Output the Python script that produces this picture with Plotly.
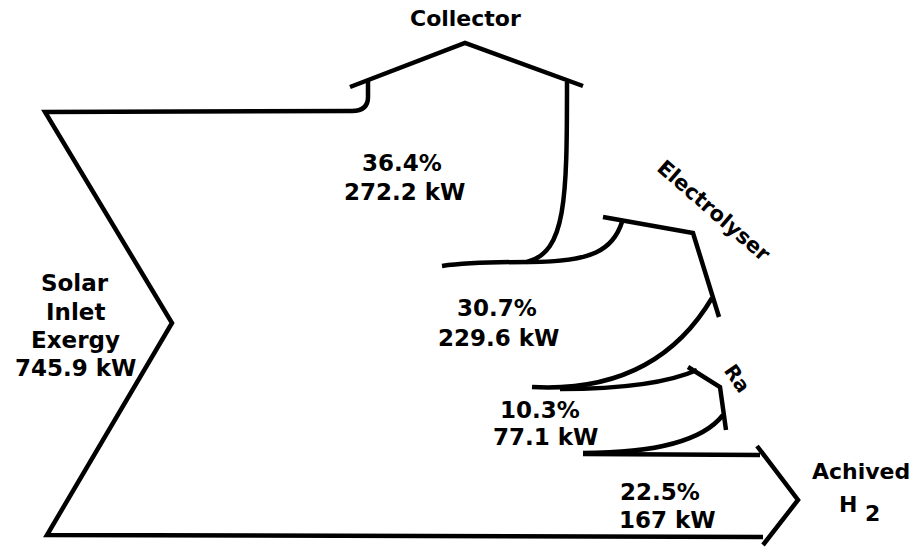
import plotly.graph_objects as go

# ---- data ----
stages = ["Solar Inlet Exergy", "Collector", "Electrolyser", "Ra", "Achived H2"]
inlet_kw = 745.9
loss_names = ["Collector", "Electrolyser", "Ra", "Achived H2"]
loss_pct = [36.4, 30.7, 10.3, 22.5]
loss_kw = [272.2, 229.6, 77.1, 167]

W, H = 917, 548
LW = 4.5
FONT = "DejaVu Sans"
FS = 23

fig = go.Figure()

paths = [
    # main outline: inlet chevron + top + bottom
    "M 368,80 L 368,97 Q 368,111 352,111 L 45,112 L 172,323 L 47,535 L 763,537",
    # collector roof
    "M 350,87 L 465,43 L 583,86",
    # collector right side curving down
    "M 567,82 C 567,200 566,252 527,262",
    # collector outflow bottom + electrolyser upper curve
    "M 442,266 Q 470,262 530,262 C 592,262 613,250 622,222",
    # electrolyser roof
    "M 603,217 L 693,233 L 719,317",
    # electrolyser lower curve
    "M 712,298 C 680,352 625,392 532,387",
    # Ra upper curve
    "M 560,389 C 622,389 668,383 697,370",
    # Ra roof
    "M 688,367 L 720,387 L 726,430",
    # Ra lower curve
    "M 723,415 C 702,442 650,453 583,453",
    # product arrow top line
    "M 583,454 L 760,455",
    # arrow head
    "M 757,446 L 798,500 L 763,545",
]
shapes = [dict(type="path", path=p, xref="x", yref="y",
               line=dict(color="black", width=LW)) for p in paths]

def ann(x, y, text, angle=0, size=FS):
    return dict(x=x, y=y, xref="x", yref="y", text=text, showarrow=False,
                textangle=angle, xanchor="center", yanchor="middle",
                font=dict(family=FONT, size=size, color="black"))

def b(t):
    return "<b>" + t + "</b>"

annotations = [
    ann(465, 18, b(loss_names[0]), size=22),
    ann(402, 163, b(f"{loss_pct[0]}%")),
    ann(404, 192, b(f"{loss_kw[0]} kW")),
    ann(714, 211, b(loss_names[1]), angle=41, size=21),
    ann(497, 308, b(f"{loss_pct[1]}%")),
    ann(498, 338, b(f"{loss_kw[1]} kW")),
    ann(737, 378, b(loss_names[2]), angle=55, size=20),
    ann(540, 410, b(f"{loss_pct[2]}%")),
    ann(545, 437, b(f"{loss_kw[2]} kW")),
    ann(660, 492, b(f"{loss_pct[3]}%")),
    ann(667, 520, b(f"{loss_kw[3]:g} kW")),
    ann(861, 471, b("Achived"), size=22),
    ann(848, 504, b("H"), size=22),
    ann(872, 513, b("2"), size=22),
    ann(75, 283, b("Solar")),
    ann(75, 312, b("Inlet")),
    ann(75, 340, b("Exergy")),
    ann(75, 368, b(f"{inlet_kw} kW")),
]

fig.update_layout(
    width=W, height=H,
    margin=dict(l=0, r=0, t=0, b=0),
    paper_bgcolor="white", plot_bgcolor="white",
    xaxis=dict(range=[0, W], visible=False, fixedrange=True),
    yaxis=dict(range=[H, 0], visible=False, fixedrange=True),
    shapes=shapes,
    annotations=annotations,
    showlegend=False,
)
fig.write_html("out.html", config={"displayModeBar": False},
               post_script="document.body.style.margin='0';document.body.style.overflow='hidden';")
